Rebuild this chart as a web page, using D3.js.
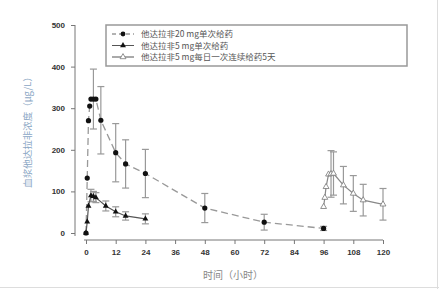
<!DOCTYPE html>
<html>
<head>
<meta charset="utf-8">
<script src="https://cdn.jsdelivr.net/npm/d3@7"></script>
<style>
  body { margin: 0; background: #fff; }
  svg { display: block; }
  .tick text { font-family: "Liberation Sans", Arial, sans-serif; font-weight: bold; font-size: 8px; fill: #333; }
  .axis path, .axis line { stroke: #777; }
</style>
</head>
<body>
<div id="chart"></div>
<script>
// 他达拉非 20 mg 单次给药
const t20 = [0, 0.5, 1, 1.5, 2, 3, 4, 6, 12, 16, 24, 48, 72, 96];
const c20 = [0, 132, 270, 305, 322, 322, 322, 271, 193, 166, 143, 60, 26, 11];
const sd20 = [0, 0, 0, 0, 0, 72, 0, 81, 70, 58, 58, 35, 19, 5];

// 他达拉非 5 mg 单次给药
const t5 = [0, 0.5, 1, 2, 3, 4, 8, 12, 16, 24];
const c5 = [0, 27, 65, 90, 88, 85, 65, 51, 41, 34];
const sd5 = [0, 0, 0, 15, 12, 12, 12, 12, 10, 12];

// 他达拉非 5 mg 每日一次连续给药5天
const tMulti = [96, 96.5, 97, 98, 99, 100, 104, 108, 112, 120];
const cMulti = [63, 85, 111, 141, 142, 143, 115, 95, 79, 69];
const sdMulti = [0, 0, 0, 0, 56, 52, 45, 43, 38, 38];

const xTicks = [0, 12, 24, 36, 48, 60, 72, 84, 96, 108, 120];
const yTicks = [0, 100, 200, 300, 400, 500];
const legendLabels = ['他达拉非20 mg单次给药', '他达拉非5 mg单次给药', '他达拉非5 mg每日一次连续给药5天'];

const W = 439, H = 289;
const svg = d3.select('#chart').append('svg').attr('width', W).attr('height', H);

// faint frame on right and bottom
svg.append('line').attr('x1', 437.5).attr('x2', 437.5).attr('y1', 0).attr('y2', H).attr('stroke', '#ddd');
svg.append('line').attr('x1', 0).attr('x2', W).attr('y1', 287.5).attr('y2', 287.5).attr('stroke', '#ddd');

const x = d3.scaleLinear().domain([0, 120]).range([86, 383]);
const y = d3.scaleLinear().domain([0, 500]).range([233, 25]);

// axes (offset, SigmaPlot style)
svg.append('g')
    .attr('class', 'axis')
    .attr('transform', 'translate(0,240)')
    .call(d3.axisBottom(x).tickValues(xTicks).tickSize(4).tickPadding(5))
    .call(g => g.select('.domain').attr('d', `M${x(0) - 2},0H${x(120)}`));

svg.append('g')
    .attr('class', 'axis')
    .attr('transform', 'translate(75,0)')
    .call(d3.axisLeft(y).tickValues(yTicks).tickSize(4).tickPadding(6))
    .call(g => g.select('.domain').attr('d', `M0,${y(0) + 3}V${y(500)}`));

svg.append('text')
    .attr('transform', 'translate(31,130) rotate(-90)')
    .attr('text-anchor', 'middle')
    .style('font-family', '"Noto Sans CJK SC"')
    .style('font-size', '9.5px')
    .style('fill', '#8aa6c4')
    .text('血浆他达拉非浓度（μg/L）');

svg.append('text')
    .attr('x', 233).attr('y', 279)
    .attr('text-anchor', 'middle')
    .style('font-family', '"Noto Sans CJK SC"')
    .style('font-size', '10px')
    .style('fill', '#888')
    .text('时间（小时）');

const line = d3.line().x(d => x(d[0])).y(d => y(d[1]));

function errorBars(ts, cs, sds) {
    ts.forEach((t, i) => {
        if (!sds[i]) return;
        const cx = x(t), top = y(cs[i] + sds[i]), bot = y(cs[i] - sds[i]);
        const g = svg.append('g').attr('stroke', '#999').attr('stroke-width', 1.2);
        g.append('line').attr('x1', cx).attr('x2', cx).attr('y1', top).attr('y2', bot);
        g.append('line').attr('x1', cx - 3.5).attr('x2', cx + 3.5).attr('y1', top).attr('y2', top);
        g.append('line').attr('x1', cx - 3.5).attr('x2', cx + 3.5).attr('y1', bot).attr('y2', bot);
    });
}

errorBars(t20, c20, sd20);
errorBars(t5, c5, sd5);
errorBars(tMulti, cMulti, sdMulti);

const tri = d3.symbol().type(d3.symbolTriangle).size(15);

// series 1: dashed line, filled circles
svg.append('path')
    .datum(t20.map((t, i) => [t, c20[i]]))
    .attr('d', line).attr('fill', 'none')
    .attr('stroke', '#999').attr('stroke-width', 1.3).attr('stroke-dasharray', '7,4');
svg.selectAll('.dot20').data(t20).enter().append('circle')
    .attr('cx', (t) => x(t)).attr('cy', (t, i) => y(c20[i]))
    .attr('r', 2.6).attr('fill', '#111');

// series 2: solid line, filled triangles
svg.append('path')
    .datum(t5.map((t, i) => [t, c5[i]]))
    .attr('d', line).attr('fill', 'none')
    .attr('stroke', '#555').attr('stroke-width', 1.2);
svg.selectAll('.tri5').data(t5).enter().append('path')
    .attr('d', tri)
    .attr('transform', (t, i) => `translate(${x(t)},${y(c5[i])})`)
    .attr('fill', '#111');

// series 3: solid line, open triangles
svg.append('path')
    .datum(tMulti.map((t, i) => [t, cMulti[i]]))
    .attr('d', line).attr('fill', 'none')
    .attr('stroke', '#888').attr('stroke-width', 1.2);
svg.selectAll('.triM').data(tMulti).enter().append('path')
    .attr('d', tri)
    .attr('transform', (t, i) => `translate(${x(t)},${y(cMulti[i])})`)
    .attr('fill', '#fff').attr('stroke', '#777').attr('stroke-width', 0.8);

// legend
const legend = svg.append('g');
legend.append('rect')
    .attr('x', 106).attr('y', 25).attr('width', 301).attr('height', 41)
    .attr('fill', '#fff').attr('stroke', '#999').attr('stroke-width', 1.5);

legendLabels.forEach((label, i) => {
    const ly = 34 + i * 11.5;
    const row = legend.append('g');
    const ln = row.append('line').attr('x1', 112).attr('x2', 134).attr('y1', ly).attr('y2', ly)
        .attr('stroke', i === 0 ? '#666' : '#555').attr('stroke-width', 1);
    if (i === 0) {
        ln.attr('stroke-dasharray', '4,3');
        row.append('circle').attr('cx', 123).attr('cy', ly).attr('r', 2.4).attr('fill', '#111');
    } else if (i === 1) {
        row.append('path').attr('d', tri).attr('transform', `translate(123,${ly})`).attr('fill', '#111');
    } else {
        row.append('path').attr('d', tri).attr('transform', `translate(123,${ly})`)
            .attr('fill', '#fff').attr('stroke', '#777').attr('stroke-width', 0.8);
    }
    row.append('text')
        .attr('x', 141).attr('y', ly + 3)
        .style('font-family', '"Noto Sans CJK SC"')
        .style('font-size', '8.5px')
        .style('fill', '#555')
        .text(label);
});
</script>
</body>
</html>
